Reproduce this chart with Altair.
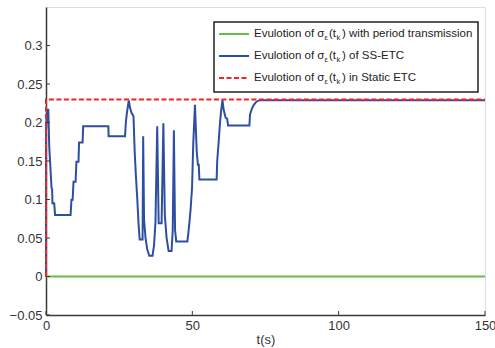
import altair as alt
import pandas as pd

# ---- data ----
blue_t = [0, 0, 0.45, 0.8, 1.1, 1.6, 1.9, 2.1, 2.2, 2.8, 3.1, 8.4, 8.7, 9.1, 9.4, 10.1, 10.4, 11.1, 11.3,
          12.5, 12.7, 21.3, 21.4, 27.0, 27.3, 27.7, 28.3, 28.7, 29.3, 29.9, 30.3, 30.7, 31.2, 31.6, 32.0,
          33.0, 33.2, 33.5, 34.0, 34.6, 35.3, 36.4, 36.9, 37.4, 38.0, 38.5, 39.5, 40.1, 40.6, 41.2, 41.9,
          42.9, 43.3, 43.7, 44.1, 44.5, 48.3, 48.6, 49.0, 49.4, 49.9, 50.3, 50.9, 51.5, 51.9, 52.2, 52.4,
          58.3, 58.5, 59.0, 59.4, 59.8, 60.3, 60.7, 61.4, 61.9, 62.2, 69.5, 69.7, 70.3, 71.0, 71.9, 73.0, 150]
blue_v = [0, 0.19, 0.2165, 0.2165, 0.169, 0.135, 0.115, 0.113, 0.095, 0.095, 0.08, 0.08, 0.0996, 0.0996,
          0.123, 0.123, 0.149, 0.149, 0.174, 0.174, 0.195, 0.195, 0.182, 0.182, 0.201, 0.214, 0.2286, 0.219,
          0.212, 0.208, 0.162, 0.132, 0.1, 0.07, 0.048, 0.048, 0.182, 0.075, 0.05, 0.035, 0.027, 0.027,
          0.04, 0.07, 0.195, 0.069, 0.069, 0.199, 0.08, 0.05, 0.033, 0.033, 0.06, 0.19, 0.06, 0.0455,
          0.0455, 0.055, 0.07, 0.087, 0.115, 0.171, 0.223, 0.162, 0.145, 0.145, 0.126, 0.126, 0.15, 0.175,
          0.197, 0.214, 0.229, 0.2165, 0.206, 0.205, 0.196, 0.196, 0.21, 0.2175, 0.223, 0.227, 0.229, 0.229]
green_t = [0, 150]
green_v = [0, 0]
red_t = [0, 0, 150]
red_v = [0, 0.23, 0.23]

x_ticks = [0, 50, 100, 150]
y_ticks = [-0.05, 0, 0.05, 0.1, 0.15, 0.2, 0.25, 0.3]

legend_tail = [") with period transmission", ") of SS-ETC", ") in Static ETC"]
GREEN, BLUE, RED = "#68bd48", "#2d4fa2", "#f52222"
AX = "#3a3a3a"
FONT = "Liberation Sans"

W, H = 439, 308

xs = alt.Scale(domain=[0, 150], nice=False)
ys = alt.Scale(domain=[-0.05, 0.35], nice=False)

def df(t, v):
    return pd.DataFrame({"t": t, "v": v, "i": range(len(t))})

x_enc = alt.X("t:Q", scale=xs,
              axis=alt.Axis(values=x_ticks, title="t(s)", grid=False, ticks=False,
                            domainColor=AX, domainWidth=1.5, labelColor="#333",
                            labelFont=FONT, labelFontSize=13, labelPadding=4,
                            titleFont=FONT, titleFontSize=13, titleFontWeight="normal",
                            titleColor="#333", titlePadding=1, labelFlush=False))
y_enc = alt.Y("v:Q", scale=ys,
              axis=alt.Axis(values=y_ticks, title=None, grid=False, ticks=False,
                            domainColor=AX, domainWidth=1.5, labelColor="#333",
                            labelFont=FONT, labelFontSize=13, labelPadding=4,
                            format="~g"))

green = alt.Chart(df(green_t, green_v)).mark_line(color=GREEN, strokeWidth=2).encode(
    x=x_enc, y=y_enc, order="i:Q")
blue = alt.Chart(df(blue_t, blue_v)).mark_line(color=BLUE, strokeWidth=2).encode(
    x="t:Q", y="v:Q", order="i:Q")
red = alt.Chart(df(red_t, red_v)).mark_line(color=RED, strokeWidth=2, strokeDash=[5, 2.5]).encode(
    x="t:Q", y="v:Q", order="i:Q")

yt = alt.Chart(pd.DataFrame({"v": y_ticks})).mark_rule(color=AX, strokeWidth=1).encode(
    y="v:Q", x=alt.value(0), x2=alt.value(4))
xt = alt.Chart(pd.DataFrame({"t": x_ticks})).mark_rule(color=AX, strokeWidth=1).encode(
    x="t:Q", y=alt.value(H), y2=alt.value(H - 4))

layers = [green, blue, red, yt, xt]

# legend
one = pd.DataFrame({"a": [0]})
layers.append(alt.Chart(one).mark_rect(fill="white", stroke="#222", strokeWidth=1.5).encode(
    x=alt.value(168), x2=alt.value(432), y=alt.value(15), y2=alt.value(85)))
rows_y = [27, 49, 71]
sym = [(GREEN, None), (BLUE, None), (RED, [5, 2.5])]
for k, (ry, (col, dash), tail) in enumerate(zip(rows_y, sym, legend_tail)):
    kw = dict(color=col, strokeWidth=2)
    if dash:
        kw["strokeDash"] = dash
    layers.append(alt.Chart(one).mark_rule(**kw).encode(
        x=alt.value(173), x2=alt.value(203), y=alt.value(ry)))
    segs = [("Evulotion of σ", 208, 0, 11.5), ("ε", 278.5, 4, 7.5), ("(t", 283, 0, 11.5),
            ("k", 290.5, 4, 7.5), (tail, 296, 0, 11.5)]
    for txt, xx, dy, fs in segs:
        layers.append(alt.Chart(one).mark_text(
            text=txt, align="left", baseline="middle", font=FONT, fontSize=fs, color="#222").encode(
            x=alt.value(xx), y=alt.value(ry + dy)))

chart = alt.layer(*layers).properties(
    width=W, height=H,
    autosize=alt.AutoSizeParams(type="none"),
    padding={"left": 46, "top": 7, "right": 10, "bottom": 33},
).configure_view(stroke=None).configure(background="white")

chart.save("out.html", embed_options={"renderer": "svg", "actions": False})
